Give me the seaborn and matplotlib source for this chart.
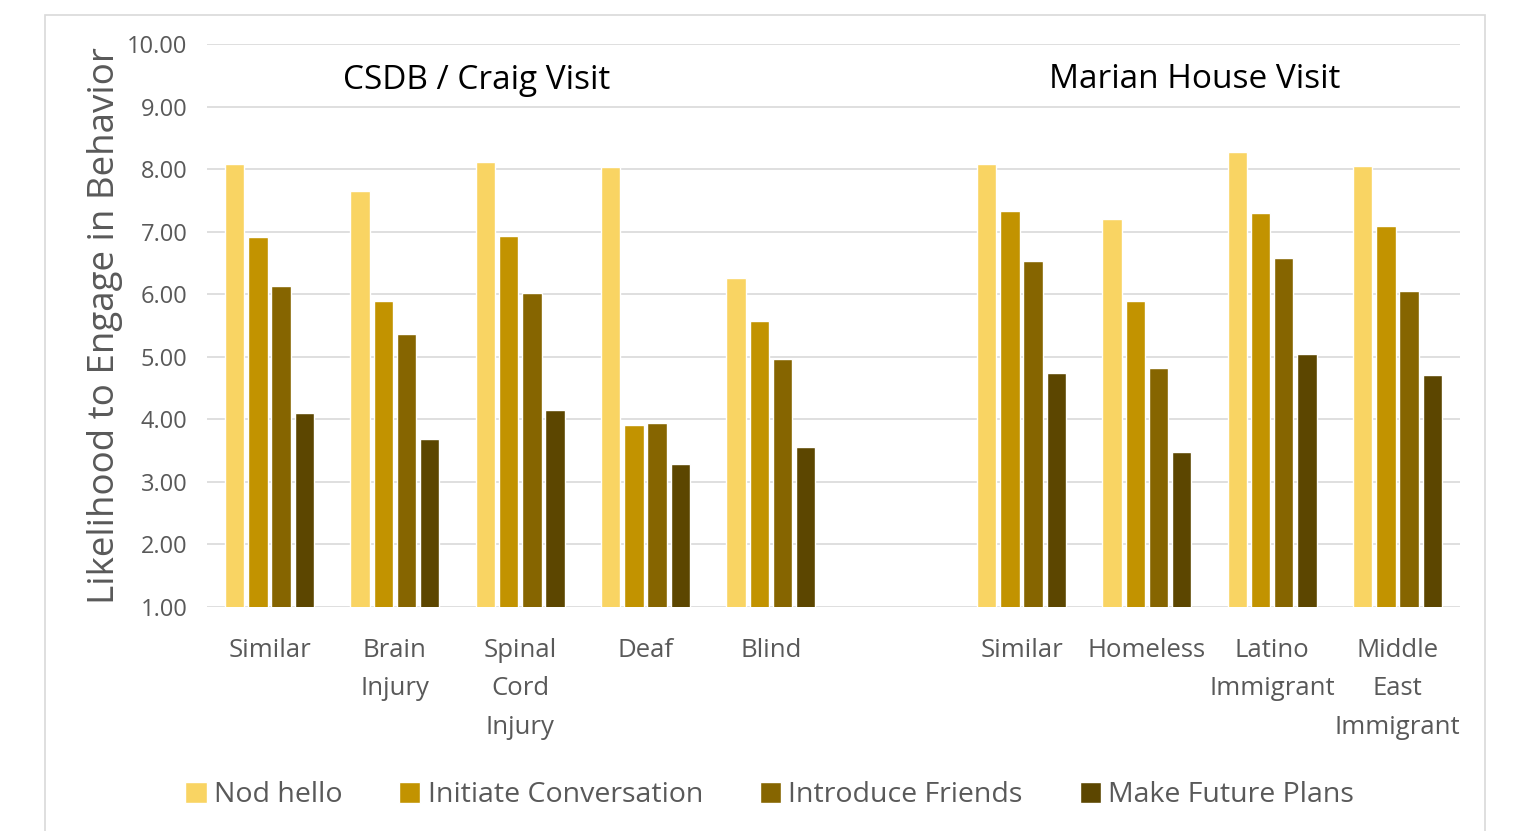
import seaborn as sns
from matplotlib import pyplot as plt
from matplotlib.patches import Rectangle
import pandas as pd

# categories (the blank one keeps the gap between the two visits)
categories = ['csdb_similar', 'brain', 'spinal', 'deaf', 'blind', 'gap',
              'mh_similar', 'homeless', 'latino', 'mideast']
tick_labels = ['Similar', 'Brain\nInjury', 'Spinal\nCord\nInjury', 'Deaf', 'Blind', '',
               'Similar', 'Homeless', 'Latino\nImmigrant', 'Middle\nEast\nImmigrant']
series = ['Nod hello', 'Initiate Conversation', 'Introduce Friends', 'Make Future Plans']
colors = ['#F9D463', '#C29300', '#866500', '#5C4600']

nod_hello = [8.09, 7.66, 8.12, 8.04, 6.26, None, 8.09, 7.20, 8.28, 8.06]
initiate = [6.92, 5.90, 6.94, 3.91, 5.57, None, 7.33, 5.90, 7.31, 7.10]
introduce = [6.14, 5.36, 6.02, 3.94, 4.96, None, 6.53, 4.83, 6.59, 6.06]
future = [4.10, 3.68, 4.15, 3.28, 3.56, None, 4.75, 3.48, 5.04, 4.71]

rows = []
for name, vals in zip(series, [nod_hello, initiate, introduce, future]):
    for cat, v in zip(categories, vals):
        if v is not None:
            rows.append({'cat': cat, 'behavior': name, 'value': v})
df = pd.DataFrame(rows)

sns.set_style('white')
plt.rcParams['font.family'] = ['Open Sans', 'DejaVu Sans']
text_gray = '#595959'

fig = plt.figure(figsize=(15.21, 8.31), dpi=100)
ax = fig.add_axes([0.136, 0.2696, 0.824, 0.677])

sns.barplot(data=df, x='cat', y='value', hue='behavior', order=categories,
            hue_order=series, palette=colors, saturation=1, width=0.74, gap=0.16,
            ax=ax, legend=True, zorder=3)

ax.set_ylim(1, 10)
ax.set_yticks(range(1, 11))
ax.set_yticklabels([f'{v:.2f}' for v in range(1, 11)], fontsize=17, color=text_gray)
ax.set_xticks(range(len(categories)))
ax.set_xticklabels(tick_labels, fontsize=18.5, color=text_gray, va='top', linespacing=1.73)
ax.tick_params(axis='y', length=0, pad=14)
ax.tick_params(axis='x', length=0, pad=22)
ax.set_xlim(-0.5, len(categories) - 0.5)
ax.grid(axis='y', color='#D9D9D9', linewidth=1.2, zorder=0)
ax.set_axisbelow(True)
for s in ax.spines.values():
    s.set_visible(False)
ax.set_xlabel('')
ax.set_ylabel('Likelihood to Engage in Behavior', fontsize=26.5, color=text_gray, labelpad=3)

ax.text(1.65, 9.42, 'CSDB / Craig Visit', fontsize=24, ha='center', va='center', color='black')
ax.text(7.38, 9.44, 'Marian House Visit', fontsize=24, ha='center', va='center', color='black')

handles, labels = ax.get_legend_handles_labels()
ax.legend_.remove()
fig.legend(handles, labels, loc='center', bbox_to_anchor=(0.506, 0.043), ncol=4,
           frameon=False, fontsize=20.5, handlelength=0.75, handleheight=0.75,
           handletextpad=0.25, columnspacing=2.0, labelcolor=text_gray)

fig.patches.append(Rectangle((45 / 1521, -0.01), 1440 / 1521, 0.992,
                             transform=fig.transFigure, fill=False,
                             edgecolor='#D9D9D9', linewidth=1.2))

fig.savefig('out.png', dpi=100, facecolor='white')
